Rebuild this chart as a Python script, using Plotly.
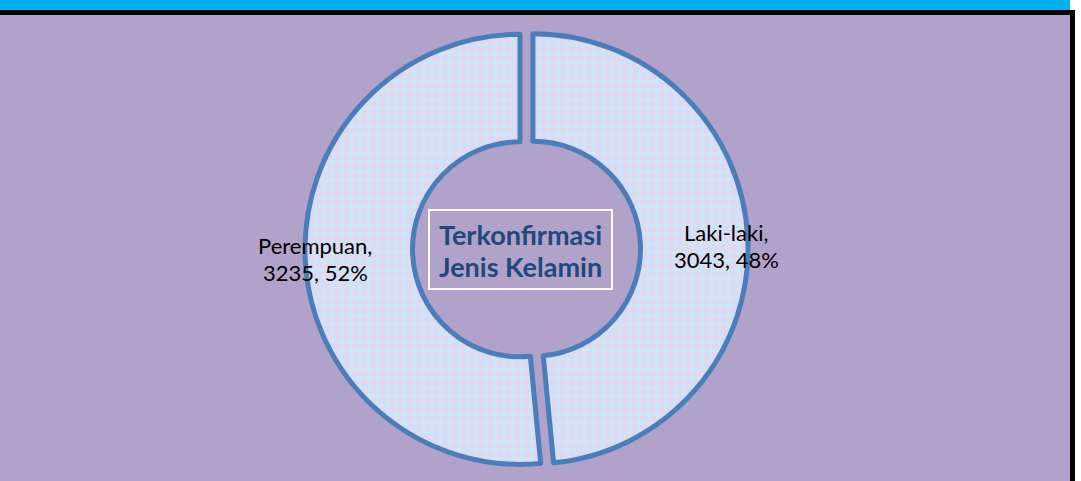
import plotly.graph_objects as go

# ---- data ----
categories = ["Laki-laki", "Perempuan"]
values = [3043, 3235]
center_title = ["Terkonfirmasi", "Jenis Kelamin"]

W, H = 1081, 481
total = sum(values)
pcts = [round(100 * v / total) for v in values]

def px(x):
    return x / W

def py(y):
    return 1 - y / H

fig = go.Figure()

# donut geometry (pixels)
cx, cy = 526.5, 249
half = 221.5
fig.add_trace(go.Pie(
    labels=categories,
    values=values,
    sort=False,
    direction="clockwise",
    rotation=0,
    hole=0.5,
    pull=[0.03, 0.03],
    textinfo="none",
    hoverinfo="label+value+percent",
    showlegend=False,
    marker=dict(
        colors=["#d0e3f6", "#d2e2f5"],
        line=dict(color="#4a7ebb", width=5),
        pattern=dict(shape=".", bgcolor="#cfe4f6", fgcolor="#e6d4f0", fgopacity=0.7,
                     size=9, solidity=0.5),
    ),
    domain=dict(x=[px(cx - half), px(cx + half)], y=[py(cy + half), py(cy - half)]),
))

shapes = [
    # purple background
    dict(type="rect", xref="paper", yref="paper", x0=0, x1=px(1070), y0=py(481), y1=py(15),
         fillcolor="#b1a2c9", line=dict(width=0), layer="below"),
    # cyan top band
    dict(type="rect", xref="paper", yref="paper", x0=0, x1=px(1070), y0=py(10), y1=py(0),
         fillcolor="#00b0f0", line=dict(width=0), layer="below"),
    # black band
    dict(type="rect", xref="paper", yref="paper", x0=0, x1=px(1075), y0=py(15), y1=py(10),
         fillcolor="#000000", line=dict(width=0), layer="below"),
    # right black border
    dict(type="rect", xref="paper", yref="paper", x0=px(1070), x1=px(1075), y0=py(481), y1=py(10),
         fillcolor="#000000", line=dict(width=0), layer="below"),
    # center title box
    dict(type="rect", xref="paper", yref="paper", x0=px(429), x1=px(612), y0=py(289), y1=py(210),
         fillcolor="rgba(0,0,0,0)", line=dict(color="#ffffff", width=2), layer="above"),
]

label_font = dict(family="Lato, Carlito, sans-serif", size=22, color="#000000")
title_font = dict(family="Lato, Carlito, sans-serif", size=27, color="#1f497d")

annotations = []
# slice labels: (x center, line1 y, line2 y) per category
label_pos = {"Laki-laki": (726, 232, 259), "Perempuan": (315, 245, 272)}
for cat, v, p in zip(categories, values, pcts):
    x, y1, y2 = label_pos[cat]
    annotations.append(dict(x=px(x), y=py(y1), xref="paper", yref="paper", text=f"{cat},",
                            showarrow=False, font=label_font, xanchor="center", yanchor="middle"))
    annotations.append(dict(x=px(x), y=py(y2), xref="paper", yref="paper", text=f"{v}, {p}%",
                            showarrow=False, font=label_font, xanchor="center", yanchor="middle"))

for line, y in zip(center_title, [234, 266]):
    annotations.append(dict(x=px(520), y=py(y), xref="paper", yref="paper", text=f"<b>{line}</b>",
                            showarrow=False, font=title_font, xanchor="center", yanchor="middle"))

fig.update_layout(
    width=W, height=H,
    margin=dict(l=0, r=0, t=0, b=0),
    paper_bgcolor="#ffffff",
    plot_bgcolor="#ffffff",
    shapes=shapes,
    annotations=annotations,
)

fig.write_html(
    "out.html",
    config={"displayModeBar": False},
    post_script="document.body.style.margin='0';document.body.style.padding='0';document.body.style.overflow='hidden';",
)
